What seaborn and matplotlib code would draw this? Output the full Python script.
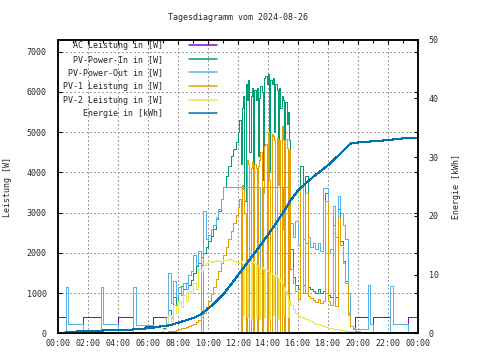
import numpy as np
import pandas as pd
import seaborn as sns
import matplotlib
matplotlib.use("Agg")
import matplotlib.pyplot as plt
import matplotlib.dates as mdates

day = "2024-08-26"

# --- Leistungswerte (W) ---
# AC Leistung, 10-Minuten-Raster ab 00:00
ac_leistung = ([400] * 3 + [1150] + [230] * 6 + [400] * 7 + [1150] + [230] * 6 + [400] * 6
               + [1150] + [200] * 7 + [400] * 5
               + [400, 1500, 750, 1300, 900, 1150, 950, 1250, 1100, 1450, 1550, 1950, 1700, 2050,
                  1700, 3050, 2350, 2450, 2600, 2700, 2900, 3100, 3350]
               + [3650] * 15 + [1500] + [3650] * 8 + [2600] + [3650] * 2
               + [2750, 2400, 2800, 2200, 3630, 2350, 2250, 2400, 2150, 2250, 2100, 2250, 2050,
                  3620, 3620, 2000, 2100, 3170, 2400, 3420, 3000, 2700, 2350, 1000, 170, 130]
               + [400] * 5 + [1200, 230] + [400] * 7 + [1180] + [230] * 6 + [400] * 5)

# PV-Power-Out, 10-Minuten-Raster ab 00:00
pv_out = ([0] * 3 + [1150] + [230] * 6 + [0] * 7 + [1150] + [230] * 6 + [0] * 6
          + [1150] + [200] * 7 + [180] * 4 + [200]
          + [400, 1500, 750, 1300, 900, 1150, 950, 1250, 1100, 1450, 1550, 1950, 1700, 2050,
             0, 3050, 2350, 2450, 2600, 2700, 2900, 3100, 3350]
          + [3630] * 15 + [1500] + [3630] * 8 + [2600] + [3630] * 2
          + [2750, 2400, 2800, 2200, 3630, 2350, 2250, 2400, 2150, 2250, 2100, 2250, 2050,
             3620, 3620, 2000, 2100, 3170, 2400, 3420, 3000, 2700, 2350, 1000, 170, 130]
          + [100] * 5 + [1200, 230] + [0] * 7 + [1180] + [230] * 6 + [0] * 5)

# PV-Power-In: 06:30-11:50 (10 min), 12:00-15:25 (5 min), 15:30-20:00 (10 min)
pv_in_morgen = [0, 30, 70, 130, 220, 580, 400, 900, 700, 1000, 1170, 1100, 1250, 1200, 1330,
                1500, 1670, 1750, 1900, 2000, 2150, 2300, 2420, 2600, 2830, 3050, 3350, 3630,
                3900, 4170, 4400, 4580, 4750]
pv_in_mittag = [5000, 5300, 4200, 5600, 5900, 3300, 6200, 5800, 6300, 4500, 5900, 6100, 2000,
                6050, 5800, 6100, 4400, 5850, 6150, 6000, 3800, 6350, 6400, 6200, 6450, 4000,
                6300, 6200, 6350, 5000, 6200, 6050, 3900, 6100, 5600, 5900, 5800, 4400, 5750,
                5200, 5500, 4800]
pv_in_abend = [2100, 1400, 1200, 1100, 4150, 1200, 3900, 1150, 1100, 1050, 1000, 1100, 1000,
               1050, 3500, 950, 900, 2700, 900, 3100, 2300, 1800, 1300, 500, 180, 100, 60, 40]

# PV-1 Leistung: 06:20-11:50, 12:00-15:25, 15:30-21:00
pv1_morgen = [0, 0, 10, 20, 30, 40, 50, 60, 70, 80, 100, 120, 140, 160, 180, 200, 230, 270, 330,
              400, 500, 650, 800, 970, 1150, 1350, 1550, 1750, 1950, 2150, 2350, 2550, 2750, 2950]
pv1_mittag = [3150, 3350, 0, 3700, 3600, 3000, 0, 4300, 4200, 0, 4100, 4250, 0, 4200, 4100, 0,
              4150, 4300, 4500, 0, 3500, 4650, 4700, 0, 5000, 3800, 0, 4950, 4900, 4800, 0,
              4850, 3700, 4800, 0, 5150, 4800, 0, 4830, 4600, 0, 4550]
pv1_abend = [1600, 1250, 1050, 850, 3700, 1000, 3500, 920, 870, 830, 780, 850, 750, 800, 3300,
             800, 700, 2500, 680, 2900, 2200, 1750, 1250, 450, 170, 100, 60, 50, 40, 40, 30, 30,
             30, 0]

# PV-2 Leistung: 06:30-11:50, 12:00-15:25, 15:30-19:40
pv2_morgen = [0, 20, 50, 100, 180, 450, 250, 700, 500, 800, 650, 950, 800, 1050, 1000, 1250,
              1100, 1600, 1550, 1700, 1750, 1800, 1780, 1800, 1820, 1800, 1800, 1830, 1820, 1840,
              1830, 1800, 1780]
pv2_mittag = [1750, 1780, 1800, 1750, 450, 1700, 1750, 400, 1750, 1800, 350, 1780, 1800, 1750,
              400, 1700, 1700, 350, 1650, 1650, 1600, 400, 1600, 1550, 1550, 350, 1500, 1480,
              450, 1450, 1420, 1400, 350, 1350, 1300, 1250, 450, 1150, 1050, 950, 400, 830]
pv2_abend = [700, 600, 500, 420, 400, 380, 350, 330, 300, 260, 240, 220, 200, 180, 160, 140, 120,
             110, 100, 100, 90, 80, 70, 60, 50, 40]

# Energie (kWh)
energie_zeit = ["00:30", "01:10", "01:15", "02:55", "03:00", "04:55", "05:00", "05:45", "05:50",
                "06:25", "06:30", "07:00", "07:30", "08:00", "08:30", "09:00", "09:30", "10:00",
                "10:30", "11:00", "11:30", "12:00", "12:30", "13:00", "13:30", "14:00", "14:30",
                "15:00", "15:30", "16:00", "16:30", "17:00", "17:30", "18:00", "18:30", "19:00",
                "19:30", "20:00", "21:00", "22:00", "23:00", "24:00"]
energie = [0.2, 0.2, 0.35, 0.35, 0.55, 0.55, 0.75, 0.75, 1.0, 1.0, 1.1, 1.2, 1.4, 1.8, 2.2, 2.6,
           3.2, 4.2, 5.3, 6.6, 8.2, 9.9, 11.6, 13.3, 15.0, 16.8, 18.6, 20.5, 22.6, 24.3, 25.5,
           26.6, 27.6, 28.6, 29.8, 31.0, 32.3, 32.5, 32.7, 32.9, 33.2, 33.2]


def raster(start, werte, freq="10min"):
    return pd.date_range(f"{day} {start}", periods=len(werte), freq=freq)


def dreiteilig(start, morgen, mittag, abend):
    t = raster(start, morgen).append(raster("12:00", mittag, "5min")).append(raster("15:30", abend))
    return t, morgen + mittag + abend


def zeit(hhmm):
    h, m = hhmm.split(":")
    return pd.Timestamp(day) + pd.Timedelta(minutes=int(h) * 60 + int(m))


sns.set_style("white")
plt.rcParams["font.family"] = ["DejaVu Sans Mono"]
plt.rcParams["font.size"] = 6
plt.rcParams["lines.antialiased"] = False

fig = plt.figure(figsize=(4.8, 3.6), dpi=100)
ax = fig.add_axes([0.1215, 0.0741, 0.7488, 0.8156])
ax2 = ax.twinx()

t_in, w_in = dreiteilig("06:30", pv_in_morgen, pv_in_mittag, pv_in_abend)
t_1, w_1 = dreiteilig("06:20", pv1_morgen, pv1_mittag, pv1_abend)
t_2, w_2 = dreiteilig("06:30", pv2_morgen, pv2_mittag, pv2_abend)

reihen = [
    (raster("00:00", ac_leistung), ac_leistung, "#9400d3", "AC Leistung in [W]"),
    (t_in, w_in, "#009e73", "PV-Power-In in [W]"),
    (raster("00:00", pv_out), pv_out, "#56b4e9", "PV-Power-Out in [W]"),
    (t_1, w_1, "#e69f00", "PV-1 Leistung in [W]"),
    (t_2, w_2, "#f0e442", "PV-2 Leistung in [W]"),
]
for zeiten, werte, farbe, name in reihen:
    sns.lineplot(x=zeiten, y=werte, ax=ax, color=farbe, lw=0.72,
                 drawstyle="steps-post", estimator=None, label=name, legend=False)

sns.lineplot(x=[zeit(t) for t in energie_zeit], y=energie, ax=ax2, color="#0072b2", lw=0.8,
             estimator=None, label="Energie in [kWh]", legend=False)

# achsen
ax.set_xlim(pd.Timestamp(day), pd.Timestamp(day) + pd.Timedelta(days=1))
ax.set_ylim(0, 7300)
ax.set_yticks(range(0, 8000, 1000))
ax2.set_ylim(0, 50)
ax2.set_yticks(range(0, 60, 10))
ax.xaxis.set_major_locator(mdates.HourLocator(byhour=range(0, 24, 2)))
ax.xaxis.set_minor_locator(mdates.HourLocator())
ax.xaxis.set_major_formatter(mdates.DateFormatter("%H:%M"))

ax.grid(True, which="major", color="#a0a0a0", linestyle=(0, (2, 2.5)), linewidth=0.72)
ax.set_axisbelow(True)

ax.tick_params(axis="both", which="major", direction="in", length=3.2, width=0.8,
               top=True, right=True, labelright=False, color="black")
ax.tick_params(axis="x", which="minor", direction="in", length=2, width=0.8, top=True,
               color="black")
ax.tick_params(axis="y", pad=8.4)
ax.tick_params(axis="x", pad=4)
ax2.tick_params(axis="y", direction="in", length=3.2, width=0.8, pad=8, color="black")

for a in (ax, ax2):
    for sp in a.spines.values():
        sp.set_color("black")
        sp.set_linewidth(1.1)

ax.set_xlabel("")
ax.set_ylabel("Leistung [W]")
ax.yaxis.set_label_coords(-0.129, 0.5)
ax2.set_ylabel("Energie [kWh]")
ax2.yaxis.set_label_coords(1.095, 0.5)

fig.text(238 / 480, 1 - 18 / 360, "Tagesdiagramm vom 2024-08-26", ha="center", va="center")

# legende rechtsbuendig wie im original
linien = ax.get_lines() + ax2.get_lines()
namen = [l.get_label().rjust(20) for l in linien]
leg = ax2.legend(linien, namen, loc="upper left", bbox_to_anchor=(0.013, 0.995), frameon=False,
                 markerfirst=False, handlelength=3.4, handletextpad=3.1, labelspacing=0.55,
                 borderpad=0, borderaxespad=0, fontsize=6)
for h in leg.legend_handles:
    h.set_antialiased(True)
    h.set_linewidth(1.1)

fig.savefig("out.png", dpi=100)
